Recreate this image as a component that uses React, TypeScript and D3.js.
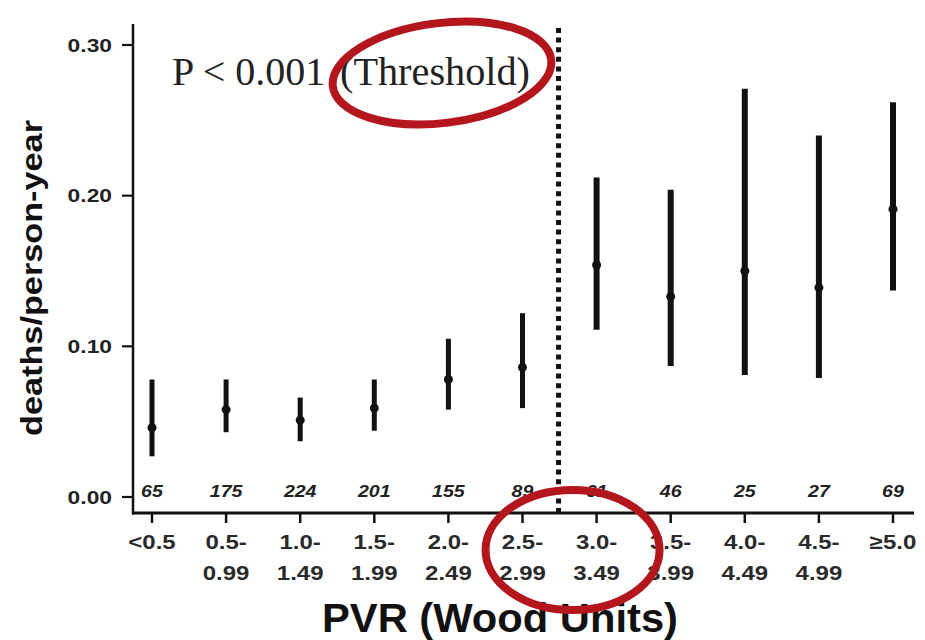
import React from "react";
import * as d3 from "d3";

// ---- data ----
const categories = ["<0.5", "0.5-0.99", "1.0-1.49", "1.5-1.99", "2.0-2.49", "2.5-2.99", "3.0-3.49", "3.5-3.99", "4.0-4.49", "4.5-4.99", "≥5.0"];
const tickLine1 = ["<0.5", "0.5-", "1.0-", "1.5-", "2.0-", "2.5-", "3.0-", "3.5-", "4.0-", "4.5-", "≥5.0"];
const tickLine2 = ["", "0.99", "1.49", "1.99", "2.49", "2.99", "3.49", "3.99", "4.49", "4.99", ""];
const rates = [0.046, 0.058, 0.051, 0.059, 0.078, 0.086, 0.154, 0.133, 0.150, 0.139, 0.191];
const lower = [0.027, 0.043, 0.037, 0.044, 0.058, 0.059, 0.111, 0.087, 0.081, 0.079, 0.137];
const upper = [0.078, 0.078, 0.066, 0.078, 0.105, 0.122, 0.212, 0.204, 0.271, 0.240, 0.262];
const counts = [65, 175, 224, 201, 155, 89, 61, 46, 25, 27, 69];
const yTicks = [0, 0.1, 0.2, 0.3];
const thresholdIndex = 6; // threshold lies before this category
const pText = "P < 0.001";
const thresholdText = "(Threshold)";
const yTitle = "deaths/person-year";
const xTitle = "PVR (Wood Units)";

// ---- layout ----
const W = 925;
const H = 640;
const axisX = 133;
const axisY = 513;
const red = "#b4161d";
const sans = "'Liberation Sans', Arial, Helvetica, sans-serif";
const serif = "'Liberation Serif', 'Times New Roman', serif";

const charW: Record<string, number> = {
  "0": 0.556, "1": 0.556, "2": 0.556, "3": 0.556, "4": 0.556, "5": 0.556, "6": 0.556, "7": 0.556, "8": 0.556, "9": 0.556,
  ".": 0.278, "-": 0.333, "<": 0.584, "≥": 0.549,
};
const est = (s: string, fs: number) => s.split("").reduce((a, c) => a + (charW[c] ?? 0.556), 0) * fs;

export default function App() {
  const x = d3.scalePoint<string>().domain(categories).range([152, 893]);
  const y = d3.scaleLinear().domain([0, 0.3]).range([497, 45]);
  const xs = categories.map((c) => x(c) as number);
  const thrX = (xs[thresholdIndex - 1] + xs[thresholdIndex]) / 2 - 1;

  const tickFs = 20;
  const stretch = 1.2;

  return (
    <svg width={W} height={H} style={{ position: "absolute", left: 0, top: 0, background: "#fff" }}>
      <rect width={W} height={H} fill="#fff" />

      {/* y axis */}
      <line x1={axisX} x2={axisX} y1={y(0.3) - 21} y2={axisY + 1.5} stroke="#111" strokeWidth={2.5} />
      {yTicks.map((t) => (
        <g key={t}>
          <line x1={axisX - 11} x2={axisX} y1={y(t)} y2={y(t)} stroke="#111" strokeWidth={2.2} />
          <text
            x={axisX - 21}
            y={y(t)}
            dy="0.35em"
            textAnchor="end"
            fontFamily={sans}
            fontWeight="bold"
            fontSize={19}
            fill="#222"
            textLength={est(t.toFixed(2), 19) * stretch}
            lengthAdjust="spacingAndGlyphs"
          >
            {t.toFixed(2)}
          </text>
        </g>
      ))}
      <text
        transform={`translate(42, ${278}) rotate(-90)`}
        textAnchor="middle"
        fontFamily={sans}
        fontWeight="bold"
        fontSize={29}
        fill="#111"
        textLength={316}
        lengthAdjust="spacingAndGlyphs"
      >
        {yTitle}
      </text>

      {/* x axis */}
      <line x1={axisX - 1} x2={914} y1={axisY} y2={axisY} stroke="#111" strokeWidth={3} />
      {categories.map((c, i) => (
        <g key={c}>
          <line x1={xs[i]} x2={xs[i]} y1={axisY} y2={axisY + 10} stroke="#111" strokeWidth={2.5} />
          <text
            x={xs[i]}
            y={axisY + 29}
            dy="0.35em"
            textAnchor="middle"
            fontFamily={sans}
            fontWeight="bold"
            fontSize={tickFs}
            fill="#2a2a2a"
            textLength={est(tickLine1[i], tickFs) * stretch}
            lengthAdjust="spacingAndGlyphs"
          >
            {tickLine1[i]}
          </text>
          {tickLine2[i] && (
            <text
              x={xs[i]}
              y={axisY + 60}
              dy="0.35em"
              textAnchor="middle"
              fontFamily={sans}
              fontWeight="bold"
              fontSize={tickFs}
              fill="#2a2a2a"
              textLength={est(tickLine2[i], tickFs) * stretch}
              lengthAdjust="spacingAndGlyphs"
            >
              {tickLine2[i]}
            </text>
          )}
          <text
            x={xs[i]}
            y={y(0) - 6}
            dy="0.35em"
            textAnchor="middle"
            fontFamily={sans}
            fontWeight="bold"
            fontStyle="italic"
            fontSize={17}
            fill="#222"
            textLength={est(String(counts[i]), 17) * 1.15}
            lengthAdjust="spacingAndGlyphs"
          >
            {counts[i]}
          </text>
        </g>
      ))}
      <text
        x={500}
        y={632}
        textAnchor="middle"
        fontFamily={sans}
        fontWeight="bold"
        fontSize={40}
        fill="#111"
        textLength={356}
        lengthAdjust="spacingAndGlyphs"
      >
        {xTitle}
      </text>

      {/* threshold dotted line */}
      <line
        x1={thrX}
        x2={thrX}
        y1={y(0.3) - 17}
        y2={axisY}
        stroke="#111"
        strokeWidth={5}
        strokeDasharray="5 4.6"
      />

      {/* error bars */}
      {categories.map((c, i) => (
        <g key={"e" + c}>
          <line x1={xs[i]} x2={xs[i]} y1={y(upper[i])} y2={y(lower[i])} stroke="#111" strokeWidth={i < thresholdIndex ? 5 : 6} />
          <circle cx={xs[i]} cy={y(rates[i])} r={4.5} fill="#111" />
        </g>
      ))}

      {/* annotation text */}
      <text x={172} y={85} fontFamily={serif} fontSize={40} fill="#222">
        {pText}
      </text>
      <text x={340} y={85} fontFamily={serif} fontSize={40} fill="#222" textLength={190} lengthAdjust="spacingAndGlyphs">
        {thresholdText}
      </text>

      {/* red highlight ellipses */}
      <ellipse
        cx={442}
        cy={73}
        rx={110}
        ry={50}
        fill="none"
        stroke={red}
        strokeWidth={8}
        transform="rotate(-7 442 73)"
      />
      <ellipse cx={thrX + 14} cy={y(0) + 53} rx={87} ry={60} fill="none" stroke={red} strokeWidth={8} />
    </svg>
  );
}
